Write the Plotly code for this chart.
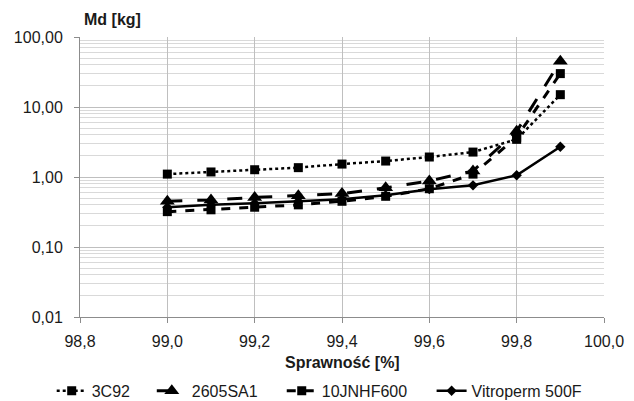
import plotly.graph_objects as go

x_vals = [99.0, 99.1, 99.2, 99.3, 99.4, 99.5, 99.6, 99.7, 99.8, 99.9]
s_3c92 = [1.10, 1.18, 1.27, 1.36, 1.53, 1.69, 1.93, 2.27, 3.45, 15.0]
s_2605 = [0.45, 0.47, 0.51, 0.54, 0.58, 0.70, 0.88, 1.22, 4.5, 45.0]
s_10jn = [0.32, 0.34, 0.37, 0.40, 0.45, 0.53, 0.68, 1.10, 3.7, 30.0]
s_vitro = [0.37, 0.40, 0.42, 0.45, 0.48, 0.55, 0.67, 0.76, 1.06, 2.7]

series_names = ["3C92", "2605SA1", "10JNHF600", "Vitroperm 500F"]

x_ticks = [98.8, 99.0, 99.2, 99.4, 99.6, 99.8, 100.0]
x_ticktext = ["98,8", "99,0", "99,2", "99,4", "99,6", "99,8", "100,0"]
y_ticks = [0.01, 0.1, 1, 10, 100]
y_ticktext = ["0,01", "0,10", "1,00", "10,00", "100,00"]
y_minor = [m * 10 ** e for e in (-2, -1, 0, 1) for m in range(2, 10)]

C = "#000000"
FONT = "Liberation Sans, Arial, sans-serif"
fig = go.Figure()
fig.add_trace(go.Scatter(x=x_vals, y=s_3c92, name=series_names[0], mode="lines+markers",
                         line=dict(color=C, width=2.5, dash="dot"),
                         marker=dict(symbol="square", size=9, color=C), legend="legend"))
fig.add_trace(go.Scatter(x=x_vals, y=s_2605, name=series_names[1], mode="lines+markers",
                         line=dict(color=C, width=3, dash="longdash"),
                         marker=dict(symbol="triangle-up", size=13, color=C), legend="legend2"))
fig.add_trace(go.Scatter(x=x_vals, y=s_10jn, name=series_names[2], mode="lines+markers",
                         line=dict(color=C, width=3, dash="dash"),
                         marker=dict(symbol="square", size=9, color=C), legend="legend3"))
fig.add_trace(go.Scatter(x=x_vals, y=s_vitro, name=series_names[3], mode="lines+markers",
                         line=dict(color=C, width=2.5),
                         marker=dict(symbol="diamond", size=8, color=C), legend="legend4"))

leg_y = -0.264
def leg(xp):
    return dict(orientation="h", x=xp, xanchor="left", y=leg_y, yanchor="middle",
                font=dict(size=16, family=FONT, color="#1a1a1a"), bgcolor="rgba(0,0,0,0)")

fig.update_layout(
    width=634, height=401,
    margin=dict(l=80, r=30, t=37, b=84, autoexpand=False),
    paper_bgcolor="white", plot_bgcolor="white",
    font=dict(family=FONT, size=16, color="#1a1a1a"),
    showlegend=True,
    legend=leg(-0.054),
    legend2=leg(0.137),
    legend3=leg(0.385),
    legend4=leg(0.671),
)
fig.add_annotation(text="<b>Md [kg]</b>", xref="paper", yref="paper", x=0.0, y=1.0,
                   xanchor="left", yanchor="bottom", yshift=7, xshift=2, showarrow=False,
                   font=dict(size=16))
fig.add_annotation(text="<b>Sprawność [%]</b>", xref="paper", yref="paper", x=0.5, y=0,
                   xanchor="center", yanchor="middle", yshift=-45, showarrow=False,
                   font=dict(size=16))

fig.update_xaxes(range=[98.8, 100.0], tickvals=x_ticks, ticktext=x_ticktext,
                 showgrid=True, gridcolor="#bfbfbf", gridwidth=1,
                 showline=True, linecolor="#8c8c8c", linewidth=1,
                 ticks="outside", ticklen=5, tickcolor="#8c8c8c", ticklabelstandoff=5,
                 zeroline=False, mirror=False)
fig.update_yaxes(type="log", range=[-2, 2], tickvals=y_ticks, ticktext=y_ticktext,
                 showgrid=True, gridcolor="#bfbfbf", gridwidth=1,
                 showline=True, linecolor="#8c8c8c", linewidth=1,
                 ticks="outside", ticklen=5, tickcolor="#8c8c8c", ticklabelstandoff=8,
                 minor=dict(tickvals=y_minor, showgrid=True, gridcolor="#d9d9d9", gridwidth=1),
                 zeroline=False)

fig.write_html("out.html")
